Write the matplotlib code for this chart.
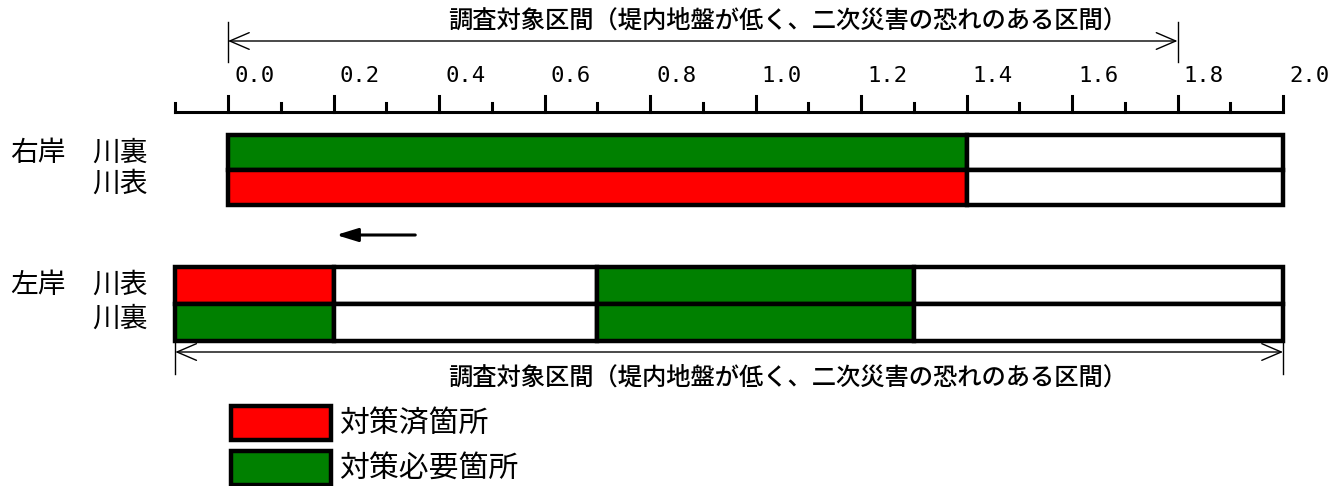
import matplotlib.pyplot as plt

plt.rcParams['font.family'] = ['Noto Sans CJK JP', 'DejaVu Sans']

# 距離標 (km)
major_ticks = [0.0, 0.2, 0.4, 0.6, 0.8, 1.0, 1.2, 1.4, 1.6, 1.8, 2.0]
minor_ticks = [-0.1, 0.1, 0.3, 0.5, 0.7, 0.9, 1.1, 1.3, 1.5, 1.7, 1.9]
tick_labels = ["0.0", "0.2", "0.4", "0.6", "0.8", "1.0", "1.2", "1.4", "1.6", "1.8", "2.0"]

# 区間 (start, end, kind)  kind: done / need / none
right_ura = [(0.0, 1.4, "need"), (1.4, 2.0, "none")]
right_omote = [(0.0, 1.4, "done"), (1.4, 2.0, "none")]
left_omote = [(-0.1, 0.2, "done"), (0.2, 0.7, "none"), (0.7, 1.3, "need"), (1.3, 2.0, "none")]
left_ura = [(-0.1, 0.2, "need"), (0.2, 0.7, "none"), (0.7, 1.3, "need"), (1.3, 2.0, "none")]

top_range = (0.0, 1.8)
bottom_range = (-0.1, 2.0)
range_text = "調査対象区間（堤内地盤が低く、二次災害の恐れのある区間）"

colors = {"done": "#ff0000", "need": "#008000", "none": "white"}
legend_items = [("done", "対策済箇所"), ("need", "対策必要箇所")]

fig = plt.figure(figsize=(13.34, 4.86), dpi=100)
ax = fig.add_axes([0, 0, 1, 1])
# x in km, y in pixel rows (top = 0)
px0, scale = 228, 527.5
ax.set_xlim(-px0 / scale, (1334 - px0) / scale)
ax.set_ylim(486, 0)
ax.axis("off")

# scale bar
axis_y = 112
ax.plot([minor_ticks[0], major_ticks[-1]], [axis_y, axis_y], color="black", lw=2.2)
for t in major_ticks:
    ax.plot([t, t], [axis_y, axis_y - 16], color="black", lw=2.2)
for t in minor_ticks:
    ax.plot([t, t], [axis_y, axis_y - 9], color="black", lw=2.2)
for t, lab in zip(major_ticks, tick_labels):
    ax.text(t + 0.012, 76, lab, ha="left", va="center", fontsize=16, family="DejaVu Sans Mono")


def dim_arrow(x0, x1, y, y_text, tick_lo, tick_hi):
    ax.annotate("", xy=(x1, y), xytext=(x0, y),
                arrowprops=dict(arrowstyle="<->,head_length=1.4,head_width=0.6",
                                lw=1.0, color="black", shrinkA=0, shrinkB=0))
    for x in (x0, x1):
        ax.plot([x, x], [tick_lo, tick_hi], color="black", lw=1.0)
    ax.text(1.06, y_text, range_text, ha="center", va="center", fontsize=17.5, weight="medium")


dim_arrow(top_range[0], top_range[1], 41, 21, 22, 62)
dim_arrow(bottom_range[0], bottom_range[1], 352, 378, 343, 374)


def draw_row(segs, yc, h):
    for s, e, k in segs:
        ax.barh(yc, e - s, left=s, height=h, color=colors[k], edgecolor="black", linewidth=3.2)


draw_row(right_ura, 152, 35)
draw_row(right_omote, 187, 35)
draw_row(left_omote, 285, 37)
draw_row(left_ura, 322, 37)

label_l = -px0 / scale + 10 / scale
label_r = -0.152
for bank, y in (("右岸", 153), ("左岸", 285)):
    ax.text(label_l, y, bank, ha="left", va="center", fontsize=20)
for side, y in (("川裏", 153), ("川表", 184), ("川表", 285), ("川裏", 319)):
    ax.text(label_r, y, side, ha="right", va="center", fontsize=20)

# flow direction
ax.annotate("", xy=(0.205, 235), xytext=(0.355, 235),
            arrowprops=dict(arrowstyle="-|>,head_length=1.3,head_width=0.4",
                            lw=2.2, color="black", shrinkA=0, shrinkB=0))

# legend
for i, (k, lab) in enumerate(legend_items):
    yc = 423 + i * 45
    ax.barh(yc, 0.19, left=0.005, height=34, color=colors[k], edgecolor="black", linewidth=3.2)
    ax.text(0.21, yc, lab, ha="left", va="center", fontsize=21.5)

fig.savefig("out.png", dpi=100)
